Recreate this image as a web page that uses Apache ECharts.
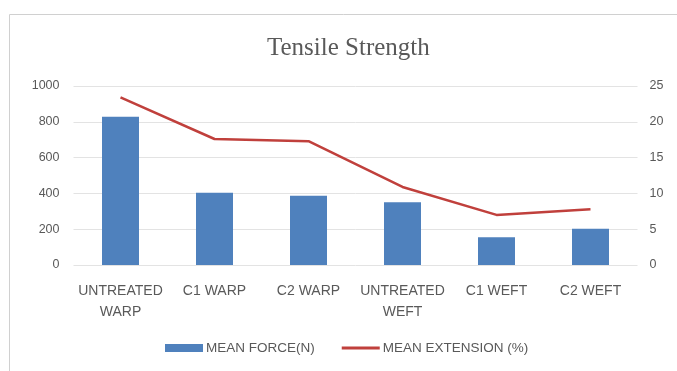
<!DOCTYPE html>
<html><head><meta charset="utf-8">
<script src="https://cdn.jsdelivr.net/npm/echarts@6/dist/echarts.min.js"></script>
<style>html,body{margin:0;padding:0;background:#fff;}#c{width:677px;height:371px;}</style>
</head><body><div id="c"></div>
<script>
const categories = ["UNTREATED\nWARP", "C1 WARP", "C2 WARP", "UNTREATED\nWEFT", "C1 WEFT", "C2 WEFT"];
const meanForce = [828, 404, 387, 350, 155, 203];
const meanExtension = [23.4, 17.6, 17.3, 10.9, 7.0, 7.8];
const leftTicks = [0, 1000, 200];
const rightTicks = [0, 25, 5];

const chart = echarts.init(document.getElementById('c'));
const lab = {color:'#595959', fontFamily:'Liberation Sans', fontSize:12.5};
chart.setOption({
  animation:false,
  title:{text:'Tensile Strength', left:262, top:31, textStyle:{fontFamily:'Liberation Serif', fontWeight:'normal', fontSize:25, color:'#595959'}},
  graphic:[{type:'polyline', shape:{points:[[9.5,371],[9.5,14.5],[677,14.5]]}, style:{stroke:'#d0d0d0', lineWidth:1, fill:null}}],
  grid:{left:73.5, right:39.5, top:86, bottom:106},
  legend:{bottom:16, left:165, padding:0, itemGap:27, itemWidth:38, itemHeight:8,
    textStyle:{color:'#595959', fontFamily:'Liberation Sans', fontSize:13.5, padding:[0,0,0,-2]},
    data:[{name:'MEAN FORCE(N)', icon:'rect'}, {name:'MEAN EXTENSION (%)', icon:'path://M0,0H38V3H0Z'}]},
  xAxis:{type:'category', data:categories, axisLine:{show:false}, axisTick:{show:false},
    axisLabel:Object.assign({}, lab, {interval:0, margin:16, lineHeight:21, fontSize:14})},
  yAxis:[
    {type:'value', min:leftTicks[0], max:leftTicks[1], interval:leftTicks[2], axisLine:{show:false}, axisTick:{show:false},
      splitLine:{lineStyle:{color:'#e3e3e3'}}, axisLabel:Object.assign({margin:14, formatter:v=>String(v)}, lab)},
    {type:'value', min:rightTicks[0], max:rightTicks[1], interval:rightTicks[2], position:'right', axisLine:{show:false}, axisTick:{show:false},
      splitLine:{show:false}, axisLabel:Object.assign({margin:12}, lab)}
  ],
  series:[
    {name:'MEAN FORCE(N)', type:'bar', data:meanForce, barWidth:37, itemStyle:{color:'#4f81bd'}},
    {name:'MEAN EXTENSION (%)', type:'line', yAxisIndex:1, data:meanExtension, symbol:'none',
      lineStyle:{color:'#c0403c', width:2.5}, itemStyle:{color:'#c0403c'}}
  ]
});
</script></body></html>
